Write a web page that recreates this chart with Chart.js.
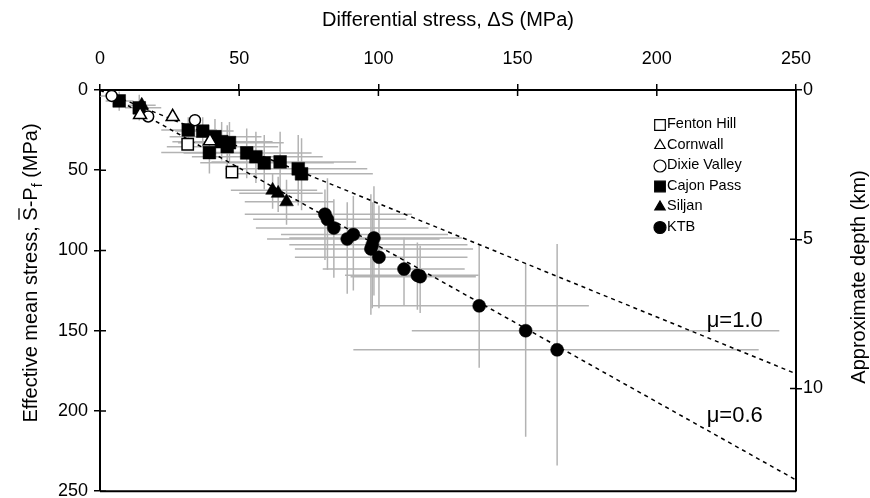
<!DOCTYPE html>
<html>
<head>
<meta charset="utf-8">
<script src="https://cdn.jsdelivr.net/npm/chart.js@4.4.0/dist/chart.umd.min.js"></script>
<style>
  html, body { margin: 0; padding: 0; background: #fff; overflow: hidden; }
  #wrap { width: 870px; height: 498px; overflow: hidden; }
  canvas { display: block; }
</style>
</head>
<body>
<div id="wrap"><canvas id="chart" width="870" height="508"></canvas></div>
<script>
const FONT = "'Liberation Sans', Arial, sans-serif";

// tick values
const stressTicks = [0, 50, 100, 150, 200, 250];
const meanTicks = [0, 50, 100, 150, 200, 250];
const depthTicks = [0, 5, 10];
const depthAtAxisBottom = 13.44; // km at 250 MPa

// friction lines (dS, S-Pf)
const mu10Line = [[0, 0], [250, 176.8]];
const mu06Line = [[0, 0], [250, 243]];

// Fenton Hill
const fentonX = [31.5, 47.4];
const fentonY = [33.8, 51.2];
// Cornwall
const cornwallX = [14.4, 26.1, 39.5];
const cornwallY = [15.5, 16.7, 31.8];
// Dixie Valley
const dixieX = [4.2, 17.3, 34.1];
const dixieY = [3.7, 16.5, 18.8];
const dixieXErr = [[-1, 8], [17.3, 17.3], [34.1, 34.1]];
const dixieYErr = [[3.7, 3.7], [16.5, 16.5], [18.8, 18.8]];
// Cajon Pass
const cajonX = [6.9, 14.1, 31.7, 36.9, 41.3, 43.7, 46.5, 45.7, 39.3, 52.7, 56.0, 59.0, 64.7, 71.2, 72.4];
const cajonY = [6.8, 11.1, 24.9, 25.6, 29.1, 32.2, 32.8, 35.3, 39.0, 39.2, 41.6, 45.4, 44.8, 49.1, 52.2];
const cajonXErr = [[2, 12], [9, 22], [22, 42], [27, 48], [25, 58], [26, 62], [28, 66], [24, 64], [22, 58],
                   [30, 76], [33, 80], [36, 84], [40, 92], [45, 96], [46, 98]];
const cajonYErr = [[1, 13], [3, 19], [17, 33], [17, 35], [18, 40], [20, 44], [20, 46], [22, 48], [26, 52],
                   [24, 55], [26, 58], [28, 62], [26, 64], [28, 72], [30, 75]];
// Siljan
const siljanX = [15.0, 62.0, 64.0, 67.0];
const siljanY = [9.5, 62.5, 64.4, 69.7];
const siljanXErr = [[10, 20], [47, 78], [50, 80], [52, 84]];
const siljanYErr = [[5, 14], [52, 74], [54, 76], [56, 84]];
// KTB
const ktbX = [80.8, 81.7, 84.0, 88.8, 91.0, 98.4, 97.3, 97.8, 100.2, 109.2, 114.0, 115.0, 136.2, 152.9, 164.2];
const ktbY = [77.4, 80.6, 86.0, 92.8, 90.0, 92.2, 99.0, 96.5, 104.2, 111.6, 115.5, 116.3, 134.5, 150.0, 161.9];
const ktbXErr = [[52, 112], [55, 110], [56, 118], [60, 122], [65, 125], [68, 130], [70, 134], [68, 132], [70, 132],
                 [80, 131], [88, 136], [90, 135], [97.6, 175.6], [112, 244], [91, 236.6]];
const ktbYErr = [[62, 106], [55, 112], [68, 117], [70, 127], [66, 125], [60, 128], [65, 140], [70, 136], [72, 136],
                 [92, 134], [95, 137], [97, 139], [96, 173], [108, 216], [96, 234]];

const toPts = (xs, ys) => xs.map((v, i) => ({ x: v, y: ys[i] }));
const linePts = arr => arr.map(p => ({ x: p[0], y: p[1] }));

const sites = [
    { label: 'Fenton Hill', x: fentonX, y: fentonY, style: 'rect', r: 8, open: true },
    { label: 'Cornwall', x: cornwallX, y: cornwallY, style: 'triangle', r: 7.5, open: true },
    { label: 'Dixie Valley', x: dixieX, y: dixieY, style: 'circle', r: 5.5, open: true, errX: dixieXErr, errY: dixieYErr },
    { label: 'Cajon Pass', x: cajonX, y: cajonY, style: 'rect', r: 9, open: false, errX: cajonXErr, errY: cajonYErr },
    { label: 'Siljan', x: siljanX, y: siljanY, style: 'triangle', r: 8, open: false, errX: siljanXErr, errY: siljanYErr },
    { label: 'KTB', x: ktbX, y: ktbY, style: 'circle', r: 6.5, open: false, errX: ktbXErr, errY: ktbYErr }
];

const datasets = sites.map(s => ({
    label: s.label,
    data: toPts(s.x, s.y),
    pointStyle: s.style,
    pointRadius: s.r,
    pointHoverRadius: s.r,
    backgroundColor: s.open ? '#fff' : '#000',
    borderColor: '#000',
    borderWidth: s.open ? 1.5 : 0.5,
    errX: s.errX,
    errY: s.errY,
    order: 0
}));

[mu10Line, mu06Line].forEach((ln, i) => {
    datasets.push({
        label: i === 0 ? 'mu=1.0' : 'mu=0.6',
        data: linePts(ln),
        showLine: true,
        borderColor: '#000',
        borderWidth: 1.5,
        borderDash: [4, 4],
        pointRadius: 0,
        order: 1
    });
});

// gray error bars, under everything else
const errorBars = {
    id: 'errorBars',
    beforeDatasetsDraw(chart) {
        const { ctx, chartArea: a, scales: { x, y } } = chart;
        ctx.save();
        ctx.beginPath();
        ctx.rect(a.left, a.top, a.width, a.height);
        ctx.clip();
        ctx.strokeStyle = '#b3b3b3';
        ctx.lineWidth = 1.5;
        chart.data.datasets.forEach(ds => {
            if (!ds.errX) return;
            ds.data.forEach((p, i) => {
                const px = x.getPixelForValue(p.x), py = y.getPixelForValue(p.y);
                ctx.beginPath();
                ctx.moveTo(x.getPixelForValue(ds.errX[i][0]), py);
                ctx.lineTo(x.getPixelForValue(ds.errX[i][1]), py);
                ctx.moveTo(px, y.getPixelForValue(ds.errY[i][0]));
                ctx.lineTo(px, y.getPixelForValue(ds.errY[i][1]));
                ctx.stroke();
            });
        });
        ctx.restore();
    }
};

// frame, inner ticks, titles, legend, mu labels
const decorations = {
    id: 'decorations',
    afterDraw(chart) {
        const { ctx, chartArea: a, scales: { x, y, y2 } } = chart;
        ctx.save();
        ctx.strokeStyle = '#000';
        ctx.lineWidth = 2;
        ctx.beginPath();
        ctx.moveTo(a.left, a.bottom);
        ctx.lineTo(a.right, a.bottom);
        ctx.stroke();

        ctx.lineWidth = 1.5;
        ctx.beginPath();
        stressTicks.forEach(v => {
            const px = x.getPixelForValue(v);
            ctx.moveTo(px, a.top); ctx.lineTo(px, a.top + 6);
        });
        meanTicks.forEach(v => {
            const py = y.getPixelForValue(v);
            ctx.moveTo(a.left, py); ctx.lineTo(a.left + 6, py);
        });
        depthTicks.forEach(v => {
            const py = y2.getPixelForValue(v);
            ctx.moveTo(a.right - 6, py); ctx.lineTo(a.right, py);
        });
        ctx.stroke();

        ctx.fillStyle = '#000';
        // top title
        ctx.font = '20px ' + FONT;
        ctx.textAlign = 'center';
        ctx.textBaseline = 'middle';
        ctx.fillText('Differential stress, \u0394S (MPa)', (a.left + a.right) / 2, 20);

        // right title
        ctx.save();
        ctx.translate(859, 277);
        ctx.rotate(-Math.PI / 2);
        ctx.fillText('Approximate depth (km)', 0, 0);
        ctx.restore();

        // left title with overbar S and subscript f
        ctx.save();
        ctx.translate(30, 273);
        ctx.rotate(-Math.PI / 2);
        ctx.textAlign = 'left';
        ctx.textBaseline = 'alphabetic';
        const big = '20px ' + FONT, small = '14px ' + FONT;
        ctx.font = big;
        const p1 = 'Effective mean stress, ', p2 = 'S', p3 = '-P', p5 = ' (MPa)';
        const w1 = ctx.measureText(p1).width, w2 = ctx.measureText(p2).width,
              w3 = ctx.measureText(p3).width, w5 = ctx.measureText(p5).width;
        ctx.font = small;
        const w4 = ctx.measureText('f').width;
        let cx = -(w1 + w2 + w3 + w4 + w5) / 2;
        const base = 7;
        ctx.font = big;
        ctx.fillText(p1, cx, base); cx += w1;
        ctx.fillText(p2, cx, base);
        ctx.lineWidth = 1.3;
        ctx.beginPath();
        ctx.moveTo(cx + 1, base - 18); ctx.lineTo(cx + w2 - 1, base - 18);
        ctx.stroke();
        cx += w2;
        ctx.fillText(p3, cx, base); cx += w3;
        ctx.font = small;
        ctx.fillText('f', cx, base + 5); cx += w4;
        ctx.font = big;
        ctx.fillText(p5, cx, base);
        ctx.restore();

        // mu labels
        ctx.font = '22px ' + FONT;
        ctx.textAlign = 'center';
        ctx.textBaseline = 'middle';
        ctx.fillText('\u03bc=1.0', x.getPixelForValue(228), y.getPixelForValue(143.6));
        ctx.fillText('\u03bc=0.6', x.getPixelForValue(228), y.getPixelForValue(203));

        // legend
        ctx.font = '14.5px ' + FONT;
        ctx.textAlign = 'left';
        const lx = a.right - 136, ly = a.top + 34;
        sites.forEach((s, i) => {
            const yy = ly + i * 20.5;
            ctx.fillStyle = s.open ? '#fff' : '#000';
            ctx.strokeStyle = '#000';
            ctx.lineWidth = 1.2;
            Chart.helpers.drawPoint(ctx, {
                pointStyle: s.style, radius: s.style === 'rect' ? 7.5 : 6, rotation: 0, borderWidth: 1.2
            }, lx, yy + 1);
            ctx.fillStyle = '#000';
            ctx.fillText(s.label, lx + 7, yy);
        });
        ctx.restore();
    }
};

const tickFont = { family: FONT, size: 18 };

new Chart(document.getElementById('chart'), {
    type: 'scatter',
    data: { datasets },
    options: {
        responsive: false,
        animation: false,
        layout: { padding: { top: 0, left: 0, right: 0, bottom: 0 } },
        plugins: { legend: { display: false }, tooltip: { enabled: false } },
        scales: {
            x: {
                type: 'linear', position: 'top', min: 0, max: 250,
                afterBuildTicks: s => { s.ticks = stressTicks.map(v => ({ value: v })); },
                afterFit: s => { s.height = 90; },
                ticks: { font: tickFont, color: '#000', padding: 14, maxRotation: 0 },
                grid: { drawOnChartArea: false, color: '#000', tickLength: 6, lineWidth: 1.5 },
                border: { color: '#000', width: 2 }
            },
            y: {
                type: 'linear', position: 'left', reverse: true, min: 0, max: 250,
                afterBuildTicks: s => { s.ticks = meanTicks.map(v => ({ value: v })); },
                afterFit: s => { s.width = 100; },
                ticks: { font: tickFont, color: '#000', padding: 6 },
                grid: { drawOnChartArea: false, color: '#000', tickLength: 6, lineWidth: 1.5 },
                border: { color: '#000', width: 2 }
            },
            y2: {
                type: 'linear', position: 'right', reverse: true, min: 0, max: depthAtAxisBottom,
                afterBuildTicks: s => { s.ticks = depthTicks.map(v => ({ value: v })); },
                afterFit: s => { s.width = 74; },
                ticks: { font: tickFont, color: '#000', padding: 1 },
                grid: { drawOnChartArea: false, color: '#000', tickLength: 6, lineWidth: 1.5 },
                border: { color: '#000', width: 2 }
            }
        }
    },
    plugins: [errorBars, decorations]
});
</script>
</body>
</html>
